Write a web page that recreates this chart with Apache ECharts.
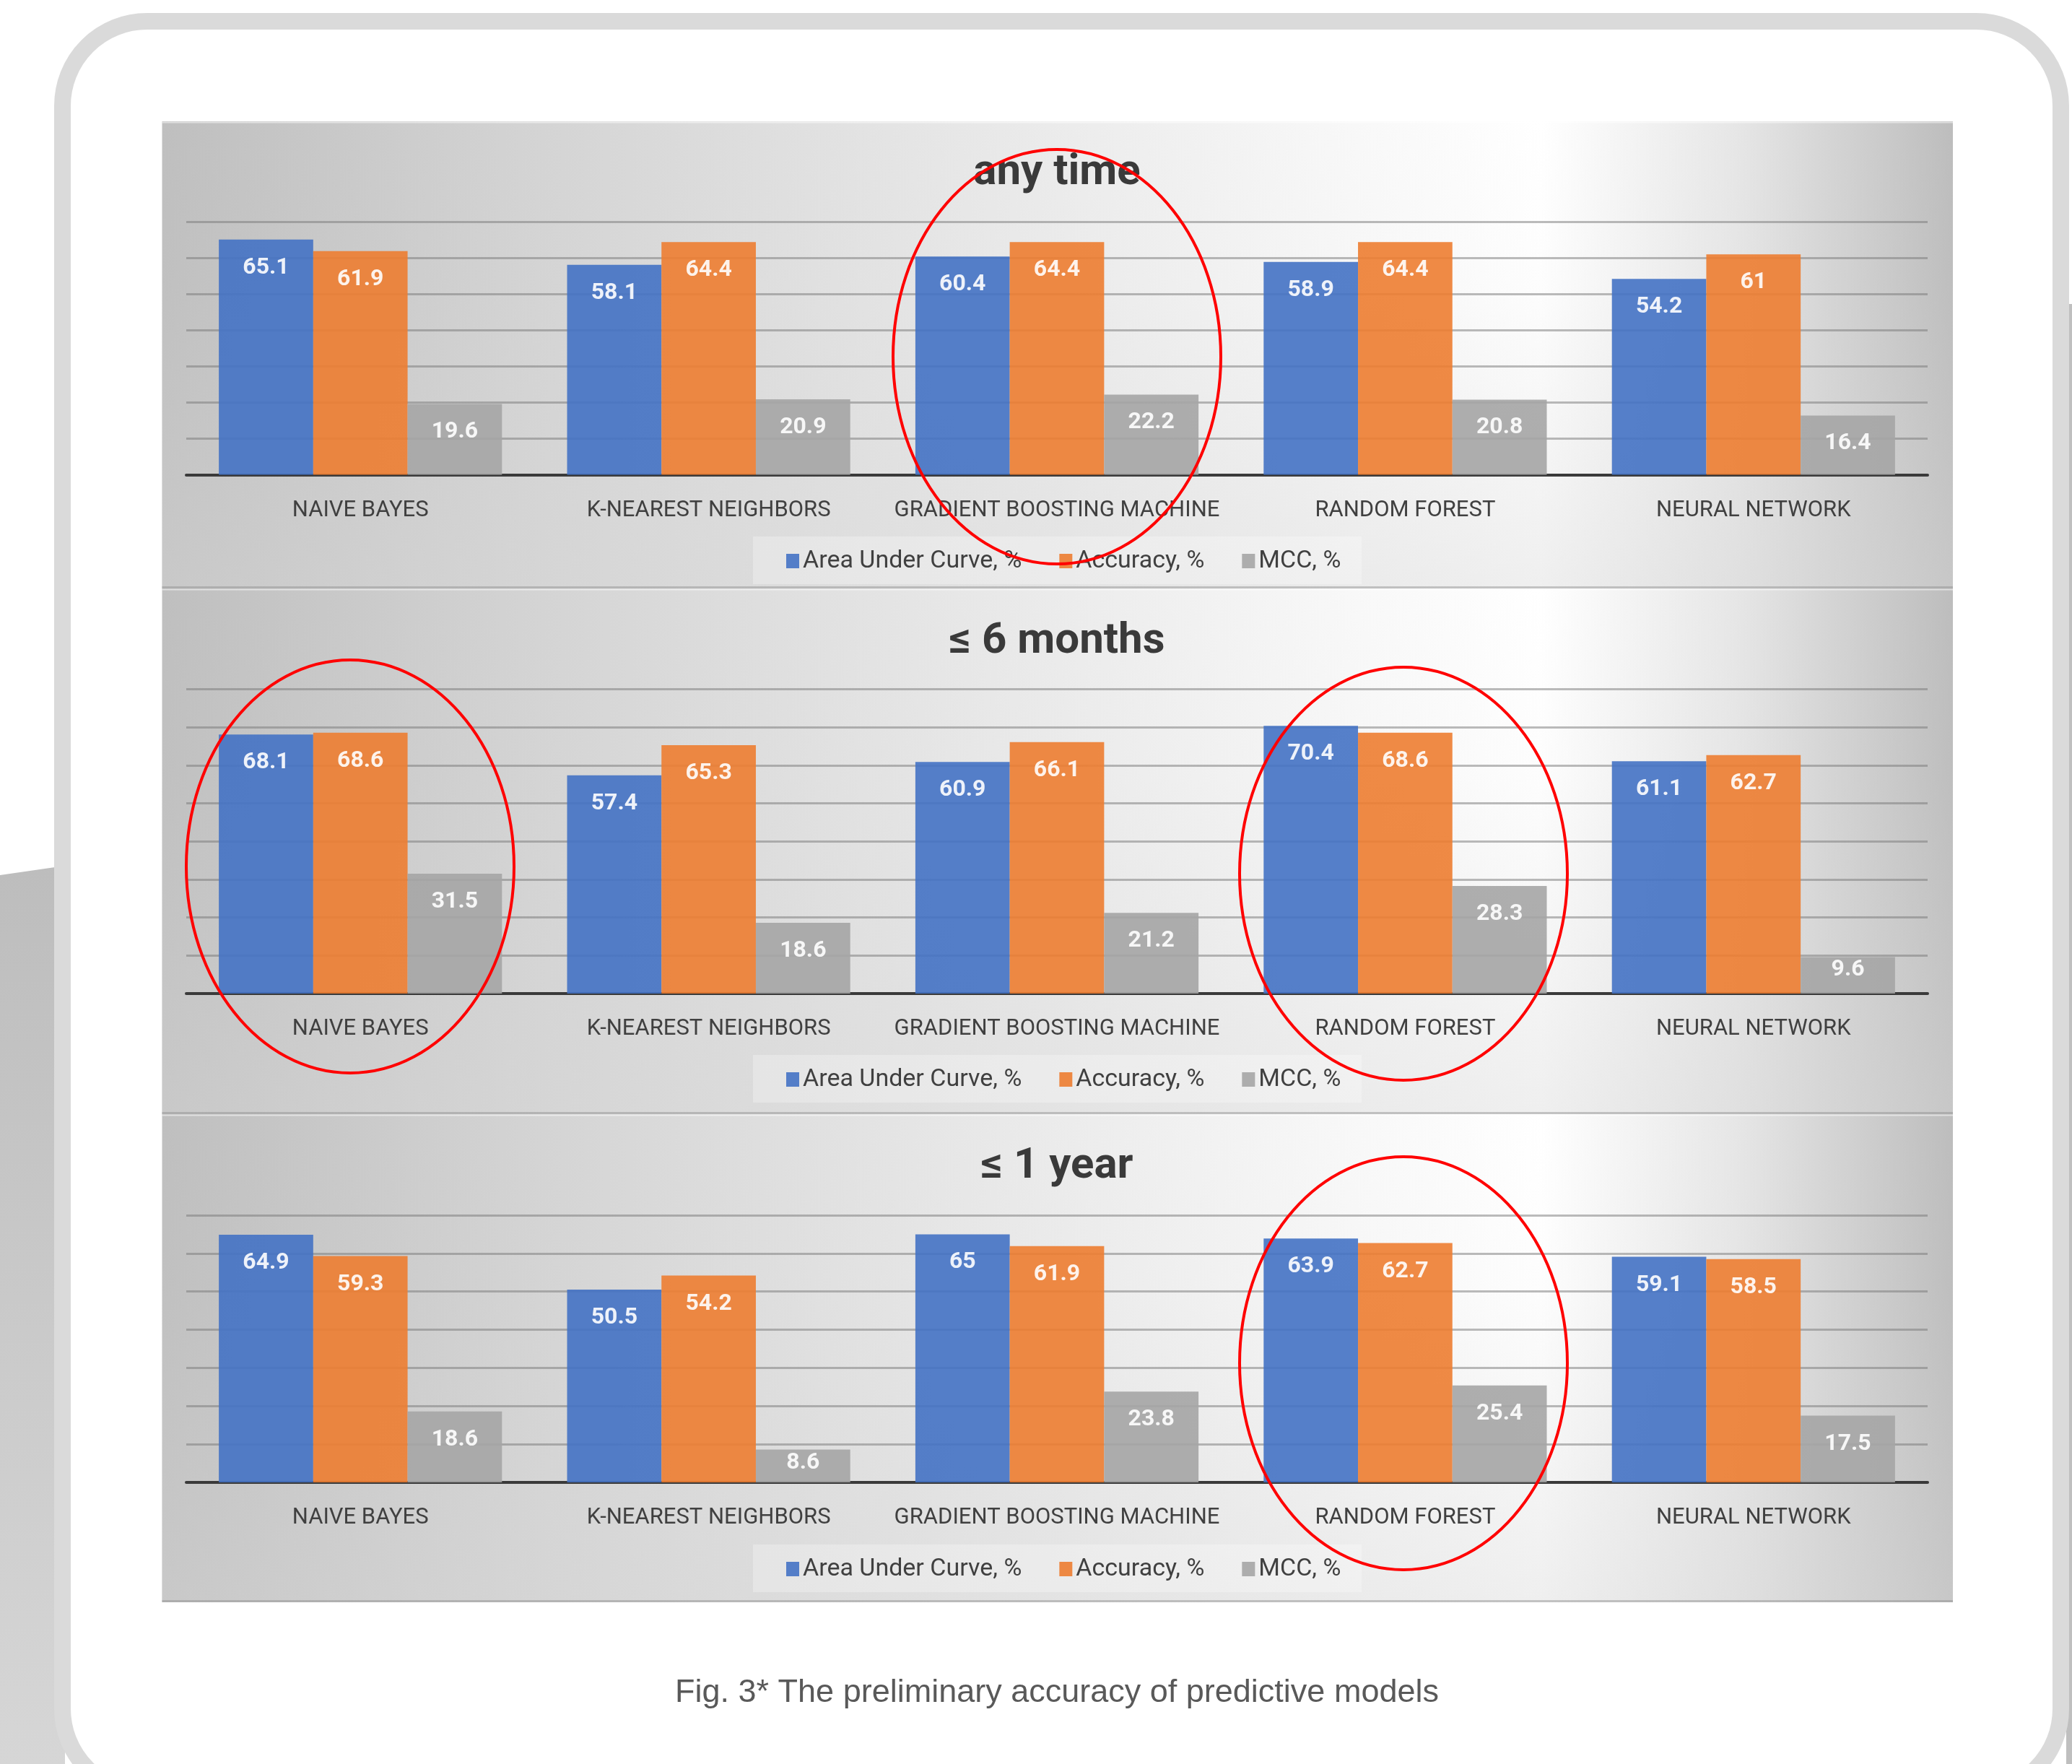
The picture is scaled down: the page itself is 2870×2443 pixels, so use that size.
<!DOCTYPE html>
<html>
<head>
<meta charset="utf-8">
<title>Fig. 3 - preliminary accuracy of predictive models</title>
<script src="https://cdn.jsdelivr.net/npm/echarts@6/dist/echarts.min.js"></script>
<style>
  html, body { margin: 0; padding: 0; background: #fff; }
  #main { width: 2870px; height: 2443px; }
</style>
</head>
<body>
<div id="main"></div>
<script>
// ---- data ----
var categories = ['NAIVE BAYES', 'K-NEAREST NEIGHBORS', 'GRADIENT BOOSTING MACHINE', 'RANDOM FOREST', 'NEURAL NETWORK'];
var seriesNames = ['Area Under Curve, %', 'Accuracy, %', 'MCC, %'];
var panelTitles = ['any time', '≤ 6 months', '≤ 1 year'];

var anyTimeAUC = [65.1, 58.1, 60.4, 58.9, 54.2];
var anyTimeAcc = [61.9, 64.4, 64.4, 64.4, 61];
var anyTimeMCC = [19.6, 20.9, 22.2, 20.8, 16.4];

var sixMonthsAUC = [68.1, 57.4, 60.9, 70.4, 61.1];
var sixMonthsAcc = [68.6, 65.3, 66.1, 68.6, 62.7];
var sixMonthsMCC = [31.5, 18.6, 21.2, 28.3, 9.6];

var oneYearAUC = [64.9, 50.5, 65, 63.9, 59.1];
var oneYearAcc = [59.3, 54.2, 61.9, 62.7, 58.5];
var oneYearMCC = [18.6, 8.6, 23.8, 25.4, 17.5];

var axisMax = [70, 80, 70];
var caption = 'Fig. 3* The preliminary accuracy of predictive models';

var panelData = [
  [anyTimeAUC, anyTimeAcc, anyTimeMCC],
  [sixMonthsAUC, sixMonthsAcc, sixMonthsMCC],
  [oneYearAUC, oneYearAcc, oneYearMCC]
];

// ---- layout (pixels) ----
var colors = ['#4472C4', '#ED7D31', '#A5A5A5'];
var plotLeft = 258, plotRight = 2670, plotMid = 1464;
var panels = [
  { y0: 168,  y1: 815,  gridTop: 307.3, gridH: 350.2, titleTop: 210,  legendTop: 760 },
  { y0: 815,  y1: 1543, gridTop: 954.6, gridH: 421.4, titleTop: 859,  legendTop: 1478 },
  { y0: 1543, y1: 2219, gridTop: 1683,  gridH: 370,   titleTop: 1586, legendTop: 2156 }
];
var rings = [
  { cx: 1464, cy: 494,  rx: 227, ry: 287 },
  { cx: 485,  cy: 1200, rx: 227, ry: 286 },
  { cx: 1944, cy: 1210, rx: 227, ry: 286 },
  { cx: 1944, cy: 1888, rx: 227, ry: 286 }
];

var font = 'Roboto';
var grids = [], xAxes = [], yAxes = [], series = [], titles = [], legends = [];
var graphics = [];

// page background: the card behind, the rounded frame
graphics.push({
  type: 'polygon', z: -100,
  shape: { points: [[0, 1212], [90, 1199], [90, 2443], [0, 2443]] },
  style: { fill: new echarts.graphic.LinearGradient(0, 0, 0, 1, [
    { offset: 0, color: '#bdbdbd' }, { offset: 1, color: '#d6d6d6' }]) }
});
graphics.push({
  type: 'rect', z: -100,
  shape: { x: 2862, y: 421, width: 8, height: 2022 },
  style: { fill: '#bfbfbf' }
});
graphics.push({
  type: 'rect', z: -99,
  shape: { x: 86.5, y: 29.5, width: 2768, height: 2454, r: 117 },
  style: { fill: '#ffffff', stroke: '#dadada', lineWidth: 23 }
});

panels.forEach(function (p, i) {
  // panel fill
  graphics.push({
    type: 'rect', z: -90,
    shape: { x: 224.5, y: p.y0, width: 2480.5, height: p.y1 - p.y0 },
    style: { fill: new echarts.graphic.LinearGradient(0, 0, 1, 0, [
      { offset: 0, color: '#bfbfbf' },
      { offset: 0.2, color: '#d3d3d3' },
      { offset: 0.43, color: '#e6e6e6' },
      { offset: 0.65, color: '#f7f7f7' },
      { offset: 0.77, color: '#ffffff' },
      { offset: 0.88, color: '#e6e6e6' },
      { offset: 1, color: '#bdbdbd' }]) }
  });
  graphics.push({
    type: 'rect', z: -89,
    shape: { x: 224.5, y: p.y0, width: 2480.5, height: p.y1 - p.y0 },
    style: { fill: new echarts.graphic.LinearGradient(0, 0, 0, 1, [
      { offset: 0, color: 'rgba(215,215,215,0)' },
      { offset: 0.35, color: 'rgba(215,215,215,0.05)' },
      { offset: 1, color: 'rgba(215,215,215,0.4)' }]) }
  });
  graphics.push({
    type: 'line', z: -88,
    shape: { x1: 224.5, y1: p.y1 - 1.5, x2: 2705, y2: p.y1 - 1.5 },
    style: { stroke: 'rgba(140,140,140,0.45)', lineWidth: 3 }
  });
  graphics.push({
    type: 'line', z: -88,
    shape: { x1: 224.5, y1: p.y0 + 1.5, x2: 2705, y2: p.y0 + 1.5 },
    style: { stroke: 'rgba(255,255,255,0.5)', lineWidth: 2 }
  });
  // legend box
  graphics.push({
    type: 'rect', z: -80,
    shape: { x: 1043, y: p.legendTop - 17, width: 843, height: 66 },
    style: { fill: 'rgba(255,255,255,0.28)' }
  });

  grids.push({ left: plotLeft, right: 2870 - plotRight, top: p.gridTop, height: p.gridH });
  xAxes.push({
    type: 'category', gridIndex: i, data: categories,
    axisTick: { show: false },
    axisLine: { lineStyle: { color: '#3a3a3a', width: 4 } },
    axisLabel: { margin: 34, fontFamily: font, fontSize: 31, color: '#404040', interval: 0 }
  });
  yAxes.push({
    type: 'value', gridIndex: i, min: 0, max: axisMax[i], interval: 10,
    axisLabel: { show: false }, axisLine: { show: false }, axisTick: { show: false },
    splitLine: { lineStyle: { color: 'rgba(120,120,120,0.5)', width: 3 } }
  });
  titles.push({
    text: panelTitles[i], left: plotMid, top: p.titleTop, textAlign: 'center', padding: 0,
    textStyle: { fontFamily: font, fontSize: 60, fontWeight: 'bold', color: '#3a3a3a' }
  });
  legends.push({
    data: seriesNames, left: 1089, top: p.legendTop, padding: 0,
    icon: 'rect', itemWidth: 18, itemHeight: 20, itemGap: 52, selectedMode: false,
    textStyle: { fontFamily: font, fontSize: 34, color: '#404040' }
  });

  panelData[i].forEach(function (values, s) {
    series.push({
      name: seriesNames[s], type: 'bar', xAxisIndex: i, yAxisIndex: i,
      barGap: '0%', barCategoryGap: '18.7%',
      itemStyle: { color: colors[s], opacity: 0.9 },
      label: {
        show: true, position: 'insideTop', distance: 23,
        color: '#ffffff', fontFamily: font, fontSize: 32, fontWeight: 'bold'
      },
      data: values.map(function (v) {
        // short bars: Excel pushes the label up to the bar top
        return v < 10 ? { value: v, label: { distance: 2 } } : v;
      })
    });
  });
});

rings.forEach(function (r) {
  graphics.push({
    type: 'ellipse', z: 100,
    shape: { cx: r.cx, cy: r.cy, rx: r.rx, ry: r.ry },
    style: { fill: 'none', stroke: '#ff0000', lineWidth: 4 }
  });
});

titles.push({
  text: caption, left: plotMid, top: 2322, textAlign: 'center', padding: 0,
  textStyle: { fontFamily: 'Liberation Sans', fontSize: 45, fontWeight: 'normal', color: '#595959' }
});

var option = {
  animation: false,
  backgroundColor: '#ffffff',
  title: titles,
  legend: legends,
  grid: grids,
  xAxis: xAxes,
  yAxis: yAxes,
  series: series,
  graphic: { elements: graphics }
};

var myChart = echarts.init(document.getElementById('main'));
myChart.setOption(option);
</script>
</body>
</html>
